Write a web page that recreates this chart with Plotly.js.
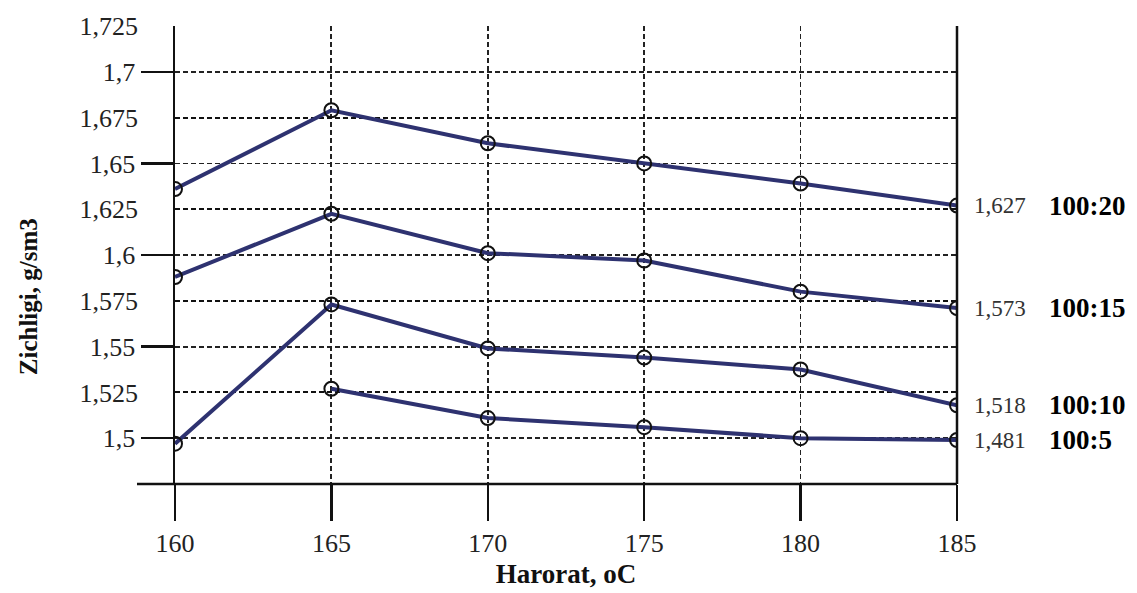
<!DOCTYPE html>
<html>
<head>
<meta charset="utf-8">
<script src="https://cdn.plot.ly/plotly-3.0.1.min.js"></script>
<style>html,body{margin:0;padding:0;background:#fff;}#chart{width:1137px;height:593px;}</style>
</head>
<body>
<div id="chart"></div>
<script>
// ---- data ----
var temps = [160, 165, 170, 175, 180, 185];
var s100_20 = [1.636, 1.679, 1.661, 1.650, 1.639, 1.627];
var s100_15 = [1.588, 1.6225, 1.601, 1.597, 1.580, 1.571];
var s100_10 = [1.497, 1.573, 1.549, 1.544, 1.5375, 1.518];
var s100_5  = [null, 1.527, 1.511, 1.506, 1.500, 1.499];
var seriesNames = ['100:20', '100:15', '100:10', '100:5'];
var endLabels = ['1,627', '1,573', '1,518', '1,481'];
var majorTicks = [1.5, 1.55, 1.6, 1.65, 1.7];
var majorText = ['1,5', '1,55', '1,6', '1,65', '1,7'];
var minorTicks = [1.525, 1.575, 1.625, 1.675, 1.725];
var minorText = ['1,525', '1,575', '1,625', '1,675', '1,725'];
var xTicks = [160, 165, 170, 175, 180, 185];
var xText = ['160', '165', '170', '175', '180', '185'];
var xTitle = 'Harorat, oC';
var yTitle = 'Zichligi, g/sm3';

var allSeries = [s100_20, s100_15, s100_10, s100_5];
var lineColor = '#2e3270';
var serif = 'Liberation Serif, Times New Roman, serif';

var traces = allSeries.map(function (s, i) {
  return {
    x: temps, y: s, type: 'scatter', mode: 'lines+markers', name: seriesNames[i],
    connectgaps: false,
    line: {color: lineColor, width: 4},
    marker: {symbol: 'circle-open', size: 14, color: '#111', line: {width: 2, color: '#111'}},
    showlegend: false, hoverinfo: 'x+y'
  };
});
// invisible trace so the second (label-only) y axis is drawn
traces.push({x: [temps[0]], y: [minorTicks[0]], yaxis: 'y2', type: 'scatter', mode: 'markers',
  marker: {opacity: 0}, showlegend: false, hoverinfo: 'skip'});

var annotations = [];
allSeries.forEach(function (s, i) {
  var last = s[s.length - 1];
  annotations.push({
    x: temps[temps.length - 1], y: last, xref: 'x', yref: 'y',
    text: endLabels[i], showarrow: false, xanchor: 'left', yanchor: 'middle',
    xshift: 15, font: {family: serif, size: 23, color: '#333'}
  });
  annotations.push({
    x: temps[temps.length - 1], y: last, xref: 'x', yref: 'y',
    text: '<b>' + seriesNames[i] + '</b>', showarrow: false, xanchor: 'left', yanchor: 'middle',
    xshift: 90, font: {family: serif, size: 27, color: '#000'}
  });
});
annotations.push({
  x: -0.188, y: 0.41, xref: 'paper', yref: 'paper', text: '<b>' + yTitle + '</b>',
  textangle: -90, showarrow: false, xanchor: 'center', yanchor: 'middle',
  font: {family: serif, size: 25, color: '#111'}
});

var gridStyle = {showgrid: true, gridcolor: '#222', gridwidth: 1.8, griddash: '5px,3px'};

var layout = {
  width: 1137, height: 593,
  margin: {l: 175, r: 180, t: 26, b: 109},
  paper_bgcolor: '#fff', plot_bgcolor: '#fff',
  showlegend: false,
  font: {family: serif, color: '#222'},
  xaxis: Object.assign({
    range: [160, 185], tickmode: 'array', tickvals: xTicks, ticktext: xText,
    ticks: 'outside', ticklen: 36, tickwidth: 2.5, tickcolor: '#111',
    showline: false, zeroline: false,
    tickfont: {family: serif, size: 26, color: '#222'},
    title: {text: '<b>' + xTitle + '</b>', font: {family: serif, size: 27, color: '#111'}, standoff: 6}
  }, gridStyle),
  yaxis: Object.assign({
    range: [1.475, 1.725], tickmode: 'array', tickvals: majorTicks, ticktext: majorText,
    ticks: 'outside', ticklen: 32, tickwidth: 2.5, tickcolor: '#111',
    showline: true, linecolor: '#111', linewidth: 2.5, zeroline: false,
    tickfont: {family: serif, size: 26, color: '#222'}
  }, gridStyle),
  yaxis2: Object.assign({
    range: [1.475, 1.725], overlaying: 'y', side: 'left', tickmode: 'array',
    tickvals: minorTicks, ticktext: minorText, ticks: '', showline: false, zeroline: false,
    ticklabelstandoff: 36,
    tickfont: {family: serif, size: 26, color: '#222'}
  }, gridStyle, {gridcolor: '#111', gridwidth: 2}),
  shapes: [
    {type: 'line', xref: 'paper', yref: 'paper', x0: -0.0486, x1: 1, y0: 0, y1: 0,
     line: {color: '#111', width: 2.5}},
    {type: 'line', xref: 'paper', yref: 'paper', x0: 1, x1: 1, y0: 0, y1: 1,
     line: {color: '#111', width: 2.5}}
  ],
  annotations: annotations
};

Plotly.newPlot('chart', traces, layout, {displayModeBar: false, staticPlot: true});
</script>
</body>
</html>
